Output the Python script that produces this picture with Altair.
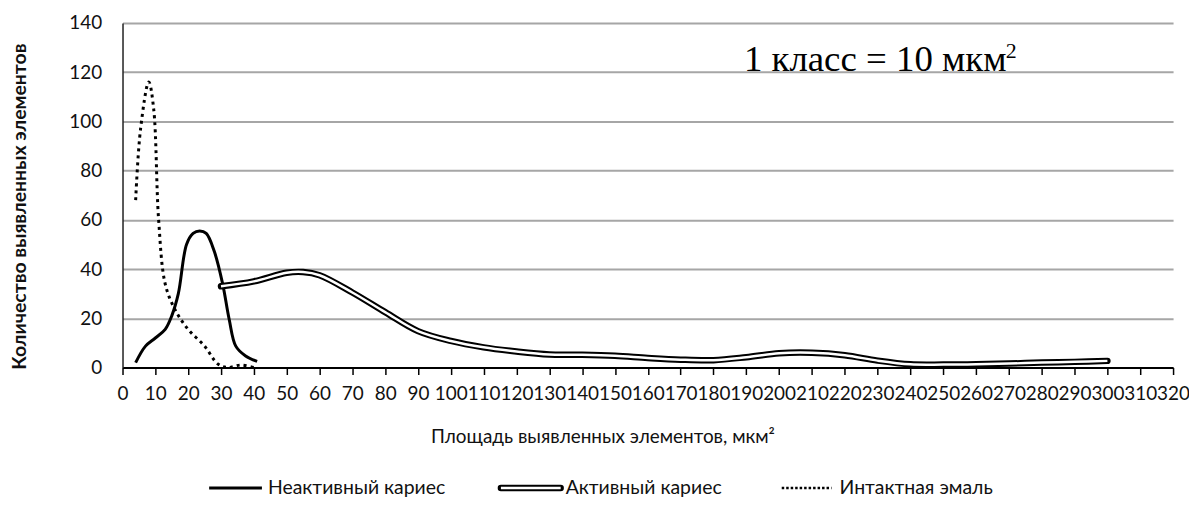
import altair as alt
import pandas as pd

# ---- data ----
intact_x = [4, 5.5, 8, 9.5, 11, 13, 16, 20, 25, 29, 32, 36, 40]
intact_y = [68, 97, 116, 105, 60, 34, 23.5, 15.5, 8.7, 1.5, 0, 1, 0]

inactive_x = [4, 7, 10, 13, 15, 17, 19.5, 21.5, 23.5, 25.5, 28, 30.5, 32.5, 34.5, 37.5, 41]
inactive_y = [2, 8.7, 12, 15.5, 21, 30, 50, 54.5, 55.5, 54.5, 47, 34, 19.5, 8.7, 4.7, 2.5]

active_x = [30, 40, 50, 55, 60, 70, 80, 90, 100, 110, 120, 130, 140, 150, 160, 170,
            180, 190, 200, 210, 220, 230, 240, 250, 260, 270, 280, 290, 300]
active_y = [33, 35, 38.5, 38.8, 37.5, 30.5, 22.5, 14.8, 10.8, 8.2, 6.5, 5.3, 5.2, 4.8, 3.9, 3.2,
            3.0, 4.2, 5.8, 6.0, 5.0, 2.8, 1.3, 1.2, 1.3, 1.6, 2.0, 2.3, 2.7]

x_ticks = list(range(0, 330, 10))
y_ticks = list(range(0, 160, 20))

series_names = ["Неактивный кариес", "Активный кариес", "Интактная эмаль"]
x_title = "Площадь выявленных элементов, мкм²"
y_title = "Количество выявленных элементов"
note_main = "1 класс = 10 мкм"
note_sup = "2"

FONT = "Lato"
INK = "#111111"

df_intact = pd.DataFrame({"x": intact_x, "y": intact_y})
df_inactive = pd.DataFrame({"x": inactive_x, "y": inactive_y})
df_active = pd.DataFrame({"x": active_x, "y": active_y})

xs = alt.Scale(domain=[0, 320], nice=False, zero=False)
ys = alt.Scale(domain=[0, 140], nice=False, zero=False)

x_axis = alt.Axis(
    values=x_ticks, labelOverlap=False, labelFlush=False, grid=False,
    domainColor="#000000", domainWidth=2, tickColor="#000000", tickWidth=1.5, tickSize=7,
    labelFont=FONT, labelFontSize=19, labelColor=INK, labelPadding=10,
    title=x_title, titleFont=FONT, titleFontSize=19, titleFontWeight="normal",
    titleColor=INK, titleX=482, titleY=69, titleBaseline="middle", titleAlign="center",
)
y_axis = alt.Axis(
    values=y_ticks, grid=True, gridColor="#a6a6a6", gridWidth=2, ticks=False, tickSize=0,
    domainColor="#222222", domainWidth=1.5,
    labelFont=FONT, labelFontSize=19, labelColor=INK, labelPadding=21,
    title=y_title, titleFont=FONT, titleFontSize=19.5, titleFontWeight="bold",
    titleColor=INK, titleX=-103, titleY=184, titleAngle=270,
    titleBaseline="middle", titleAlign="center",
)


def enc(ch):
    return ch.encode(
        x=alt.X("x:Q", scale=xs, axis=x_axis),
        y=alt.Y("y:Q", scale=ys, axis=y_axis),
    )


intact = enc(alt.Chart(df_intact).mark_line(
    interpolate="catmull-rom", color="#000000", strokeWidth=3, strokeDash=[3, 4]))
inactive = enc(alt.Chart(df_inactive).mark_line(
    interpolate="catmull-rom", color="#000000", strokeWidth=3))
active_outer = enc(alt.Chart(df_active).mark_line(
    interpolate="catmull-rom", color="#000000", strokeWidth=6.5, strokeCap="round"))
active_inner = enc(alt.Chart(df_active).mark_line(
    interpolate="catmull-rom", color="#ffffff", strokeWidth=2.5, strokeCap="butt"))

one = alt.Data(values=[{}])
LEG_Y = 467
LEG_FS = 19.5

leg = [
    alt.Chart(one).mark_rule(color="#000000", strokeWidth=3).encode(
        x=alt.value(87), x2=alt.value(140), y=alt.value(LEG_Y)),
    alt.Chart(one).mark_text(text=series_names[0], align="left", baseline="middle",
                             font=FONT, fontSize=LEG_FS, color=INK).encode(
        x=alt.value(146), y=alt.value(LEG_Y)),
    alt.Chart(one).mark_rule(color="#000000", strokeWidth=6.5, strokeCap="round").encode(
        x=alt.value(380), x2=alt.value(440), y=alt.value(LEG_Y)),
    alt.Chart(one).mark_rule(color="#ffffff", strokeWidth=2.5).encode(
        x=alt.value(380), x2=alt.value(440), y=alt.value(LEG_Y)),
    alt.Chart(one).mark_text(text=series_names[1], align="left", baseline="middle",
                             font=FONT, fontSize=LEG_FS, color=INK).encode(
        x=alt.value(445), y=alt.value(LEG_Y)),
    alt.Chart(one).mark_rule(color="#000000", strokeWidth=2.5, strokeDash=[2.5, 2]).encode(
        x=alt.value(662), x2=alt.value(712), y=alt.value(LEG_Y)),
    alt.Chart(one).mark_text(text=series_names[2], align="left", baseline="middle",
                             font=FONT, fontSize=LEG_FS, color=INK).encode(
        x=alt.value(720), y=alt.value(LEG_Y)),
    alt.Chart(one).mark_text(text=note_main, align="left", baseline="alphabetic",
                             font="Liberation Serif", fontSize=37, color="#000000").encode(
        x=alt.value(624), y=alt.value(48)),
    alt.Chart(one).mark_text(text=note_sup, align="left", baseline="alphabetic",
                             font="Liberation Serif", fontSize=22, color="#000000").encode(
        x=alt.value(887), y=alt.value(35)),
]

chart = alt.layer(intact, inactive, active_outer, active_inner, *leg).properties(
    width=1055, height=346,
    padding={"left": 115, "top": 14, "right": 16, "bottom": 135},
    autosize=alt.AutoSizeParams(type="none"),
    background="#ffffff",
).configure_view(stroke=None)

chart.save("out.html", embed_options={"renderer": "svg", "actions": False})
